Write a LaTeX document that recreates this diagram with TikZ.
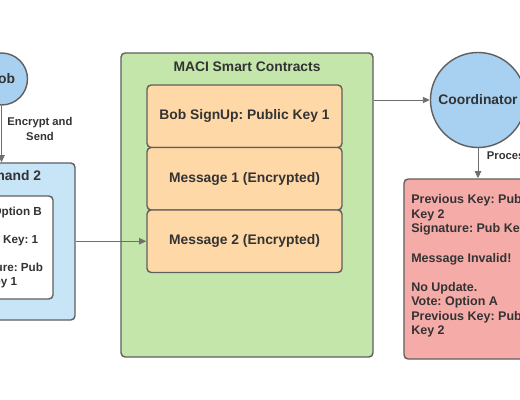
\documentclass[tikz,border=0pt]{standalone}
\usepackage{fontspec}
\setmainfont{Liberation Sans}
\usetikzlibrary{arrows.meta}
\frenchspacing
\definecolor{bluefill}{RGB}{168,208,240}
\definecolor{cmdfill}{RGB}{200,228,247}
\definecolor{greenfill}{RGB}{196,230,170}
\definecolor{orangefill}{RGB}{255,216,168}
\definecolor{redfill}{RGB}{245,172,168}
\definecolor{edge}{RGB}{95,95,95}
\definecolor{txt}{RGB}{51,51,51}
\definecolor{wire}{RGB}{110,110,110}
\begin{document}
\begin{tikzpicture}[x=0.025cm, y=-0.025cm, every node/.style={font=\fontsize{9.85}{12}\selectfont\bfseries, text=txt},
  box/.style={draw=edge,line width=1pt,rounded corners=3pt,inner sep=0pt,align=center},
  party/.style={circle,draw=edge,line width=1pt,fill=bluefill,inner sep=0pt},
  link/.style={draw=wire,line width=0.7pt,-{Triangle[length=5pt,width=4.5pt]}},
  small/.style={font=\fontsize{8}{10}\selectfont\bfseries}]
\useasboundingbox (0,0) rectangle (520,400);
\clip (0,0) rectangle (520,400);
% voter side
\node[party,minimum size=1.3cm] (bob) at (1.5,79) {Bob};
\node[box,fill=cmdfill,minimum width=3.675cm,minimum height=3.925cm] (cmd) at (1.5,241.5) {};
\node (cmdtitle) at (1.5,176) {Command 2};
\node[box,fill=white,minimum width=2.575cm,minimum height=2.575cm,font=\fontsize{8.3}{10}\selectfont\bfseries] (cmdbody) at (1.5,247.5)
  {Vote: Option B\\~\\Public Key: 1\\~\\Signature: Pub\\Key 1};
\draw[link] (bob) -- (cmd);
\node[small,align=center] (enc) at (40,129) {Encrypt and\\Send};
% contracts
\node[box,fill=greenfill,minimum width=6.3cm,minimum height=7.6cm] (maci) at (247,205) {};
\node (macititle) at (247,67) {MACI Smart Contracts};
\node[box,fill=orangefill,minimum width=4.875cm,minimum height=1.5625cm] (signup) at (244.5,116.25) {Bob SignUp: Public Key 1};
\node[box,fill=orangefill,minimum width=4.875cm,minimum height=1.5625cm] (msg1) at (244.5,178.75) {Message 1 (Encrypted)};
\node[box,fill=orangefill,minimum width=4.875cm,minimum height=1.5625cm] (msg2) at (244.5,241.25) {Message 2 (Encrypted)};
\draw[link] (cmd.east |- msg2.west) -- (msg2.west);
% coordinator
\node[party,minimum size=2.375cm] (coord) at (478,100) {Coordinator};
\draw[link] (maci.east |- coord.west) -- (coord.west);
\node[box,fill=redfill,minimum width=3.65cm,minimum height=4.5cm] (result) at (477,269) {};
\node[anchor=north west,inner sep=0pt,align=left,font=\fontsize{8.9}{10.35}\selectfont\bfseries] (resulttext) at (411,194.5)
  {Previous Key: Pub\\Key 2\\Signature: Pub Key 1\\~\\Message Invalid!\\~\\No Update.\\Vote: Option A\\Previous Key: Pub\\Key 2};
\draw[link] (coord.south) -- (coord.south |- result.north);
\node[small,anchor=west] (proc) at (482,156) {Process};
\end{tikzpicture}
\end{document}
